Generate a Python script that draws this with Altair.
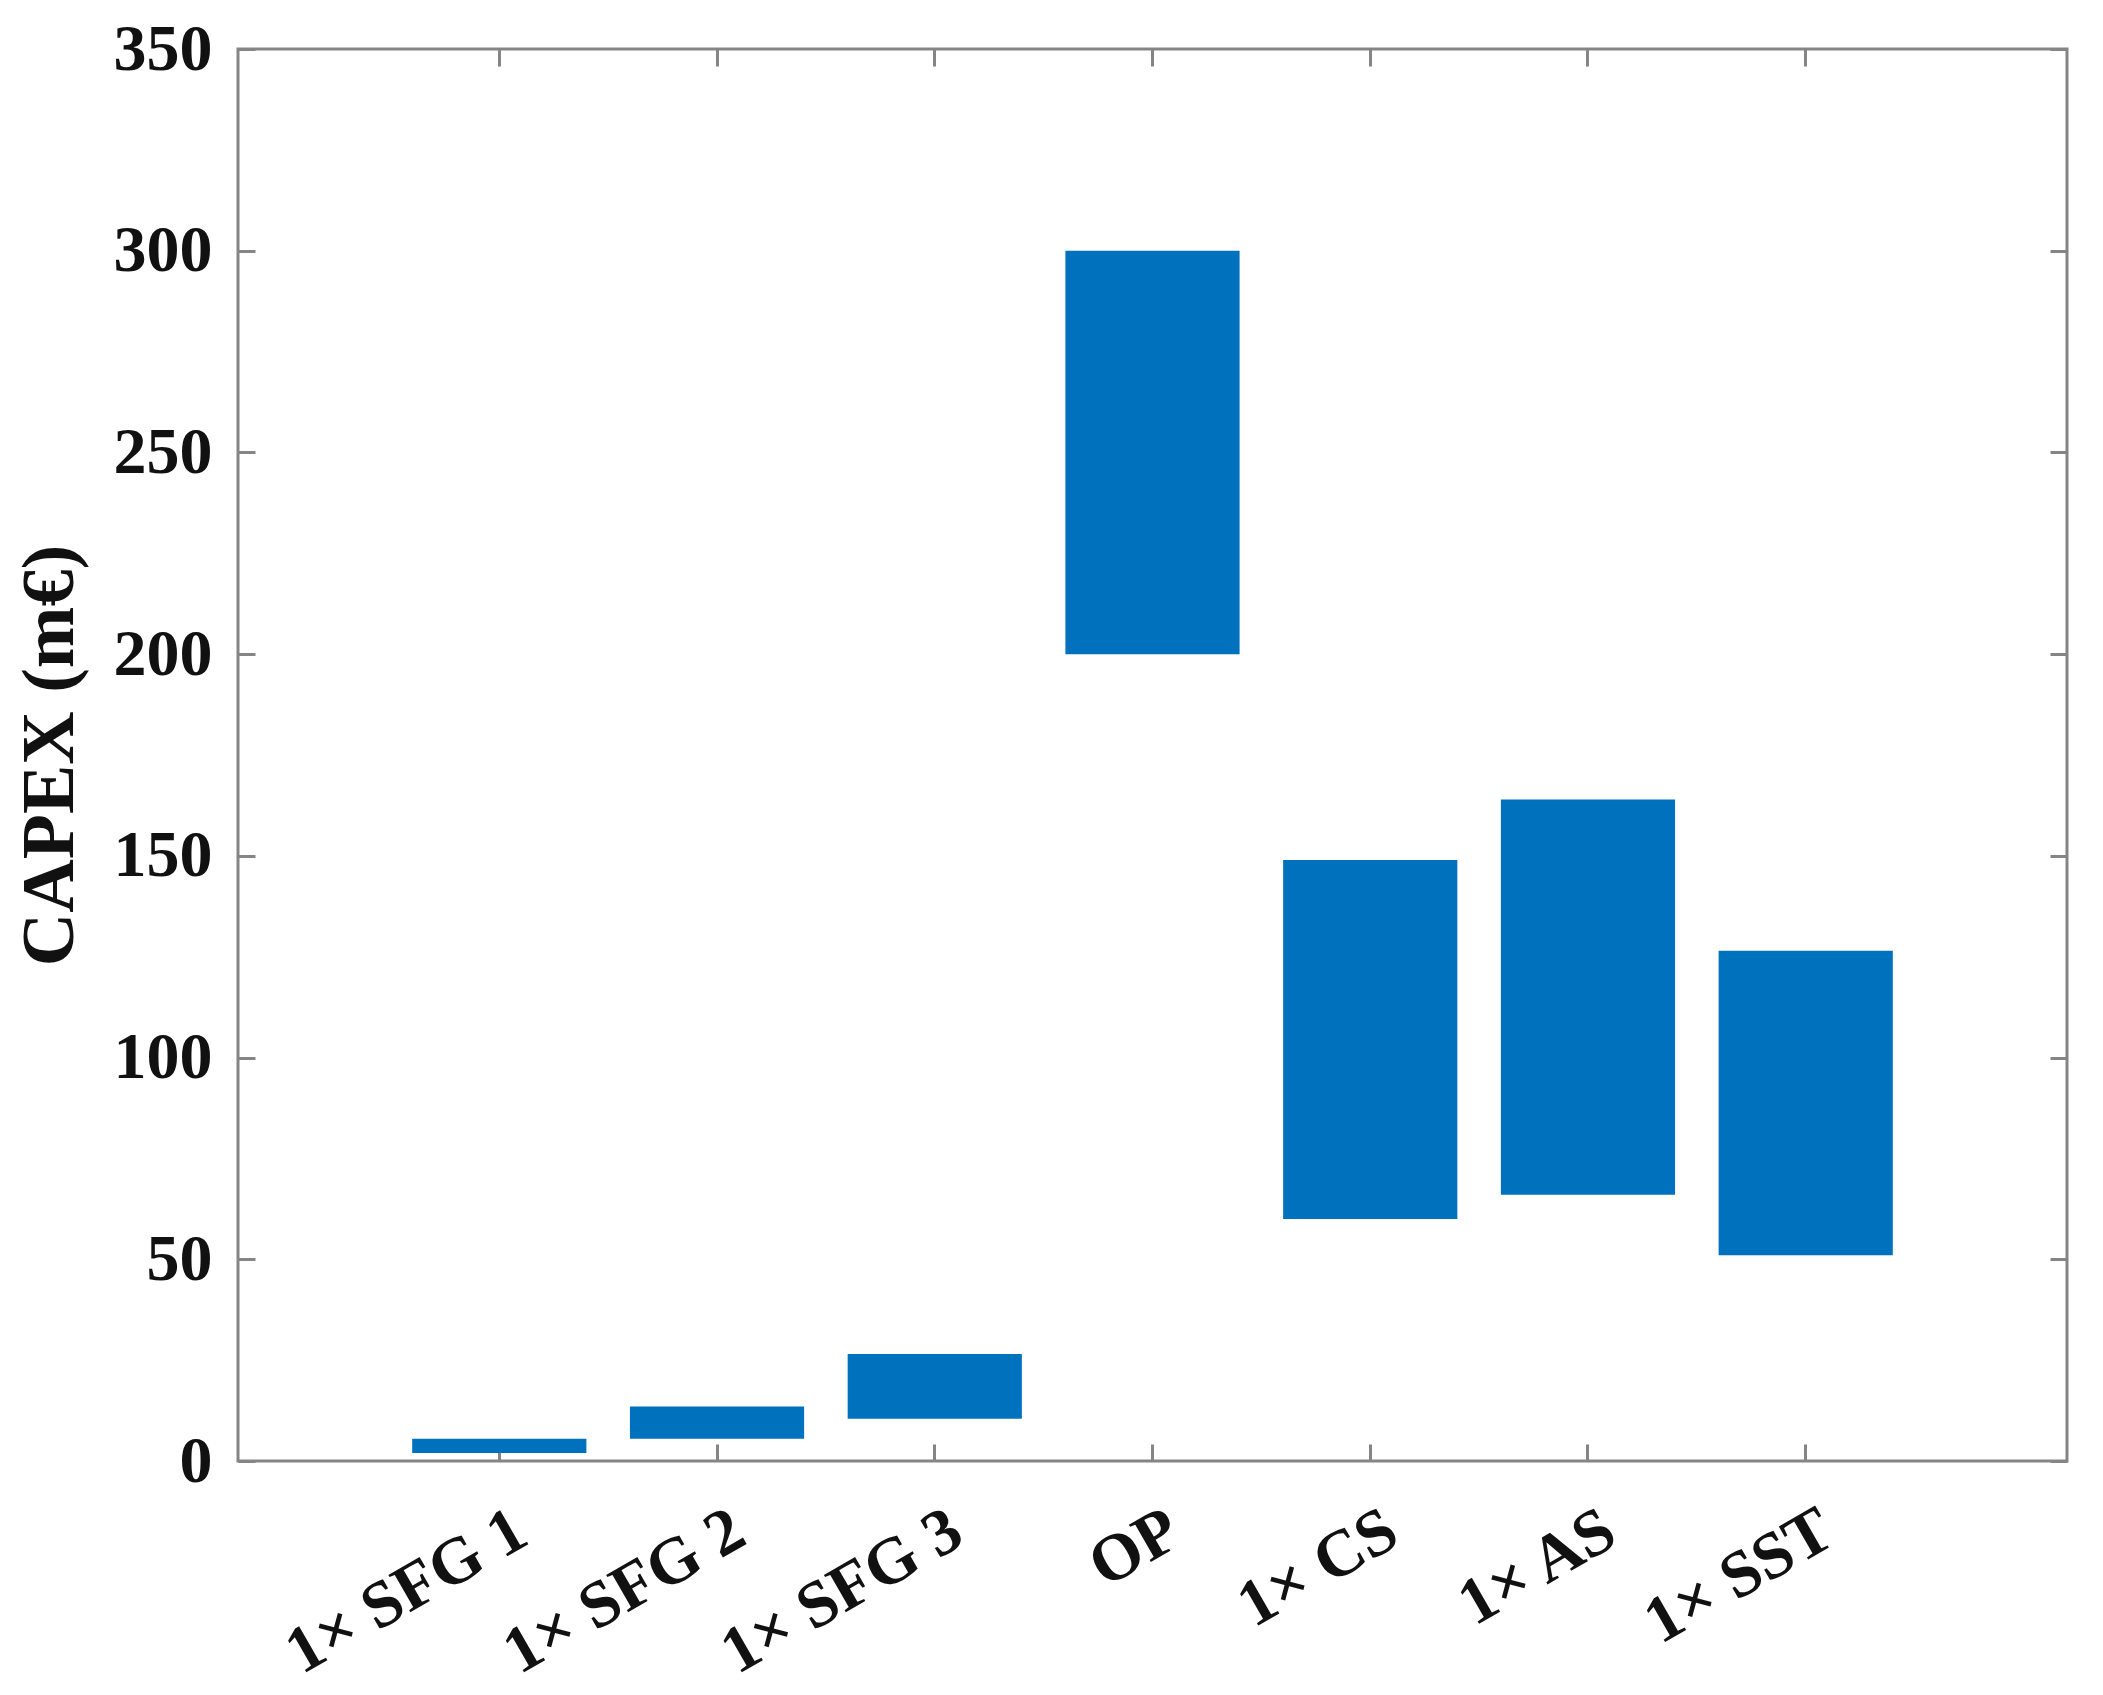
import altair as alt
import pandas as pd

categories = ["1× SFG 1", "1× SFG 2", "1× SFG 3", "OP", "1× CS", "1× AS", "1× SST"]
low = [2.0, 5.5, 10.5, 200.0, 60.0, 66.0, 51.0]
high = [5.5, 13.5, 26.5, 300.0, 149.0, 164.0, 126.5]
y_ticks = [0, 50, 100, 150, 200, 250, 300, 350]

df = pd.DataFrame({"cat": categories, "low": low, "high": high})

FONT = "Times New Roman, Liberation Serif, serif"
AX = "#858585"
TICK = 17

xscale = alt.Scale(domain=categories, paddingInner=0.2, paddingOuter=0.8)
yscale = alt.Scale(domain=[0, 350], nice=False, zero=False)

bars = alt.Chart(df).mark_bar(color="#0072BD").encode(
    x=alt.X("cat:N", sort=categories, scale=xscale, title=None,
            axis=alt.Axis(orient="bottom", offset=-TICK, tickSize=TICK, tickWidth=3,
                          tickColor=AX, domain=False, grid=False,
                          labelAngle=-30, labelAlign="right", labelBaseline="top",
                          labelPadding=36, labelOffset=6, labelLimit=0,
                          labelFont=FONT, labelFontSize=66, labelFontWeight="bold",
                          labelColor="#111111")),
    y=alt.Y("low:Q", scale=yscale,
            axis=alt.Axis(orient="left", offset=-TICK, tickSize=TICK, tickWidth=3,
                          tickColor=AX, domain=False, grid=False, values=y_ticks,
                          labelPadding=26, labelFont=FONT, labelFontSize=66,
                          labelFontWeight="bold", labelColor="#111111",
                          title="CAPEX (m€)", titleFont=FONT, titleFontSize=74,
                          titleFontWeight="bold", titleColor="#111111",
                          titlePadding=25)),
    y2="high:Q",
)

mirror = alt.Chart(df).mark_bar(opacity=0).encode(
    x=alt.X("cat:N", sort=categories, title=None,
            axis=alt.Axis(orient="top", offset=-TICK, tickSize=TICK, tickWidth=3,
                          tickColor=AX, domain=False, grid=False, labels=False)),
    y=alt.Y("low:Q", title=None,
            axis=alt.Axis(orient="right", offset=-TICK, tickSize=TICK, tickWidth=3,
                          tickColor=AX, domain=False, grid=False, labels=False,
                          values=y_ticks)),
    y2="high:Q",
)

chart = (
    alt.layer(bars, mirror)
    .resolve_axis(x="independent", y="independent")
    .properties(width=1829, height=1412, background="white",
                padding={"left": 5, "top": 8, "right": 5, "bottom": 5})
    .configure_view(stroke=AX, strokeWidth=3)
)

chart.save("out.html", embed_options={"renderer": "svg", "actions": False})
